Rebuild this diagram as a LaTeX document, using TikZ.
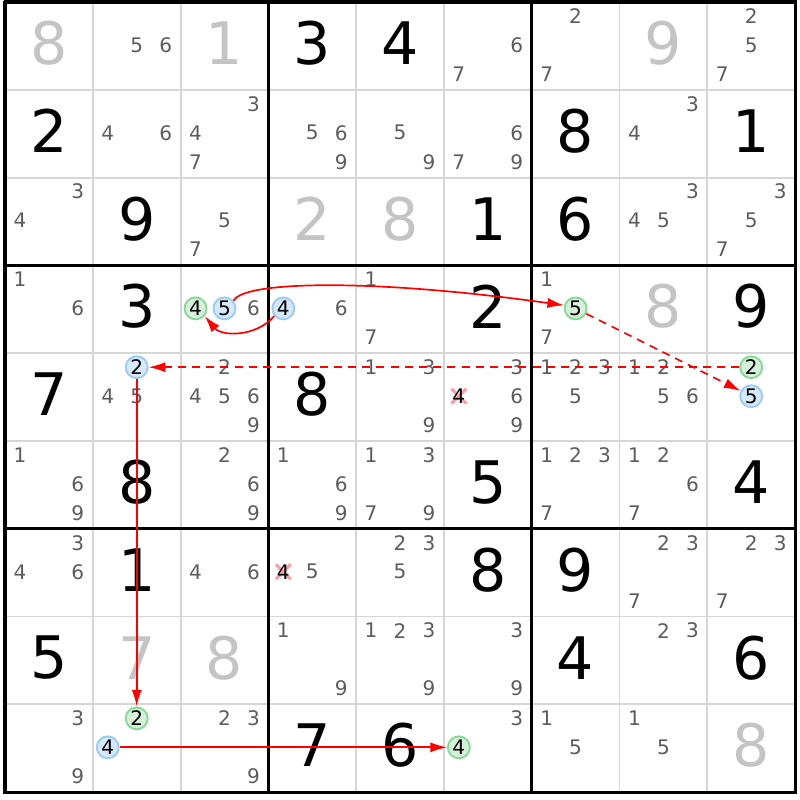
\documentclass[tikz,border=0pt]{standalone}
\usepackage{fontspec}
\setmainfont{DejaVu Sans}
\usetikzlibrary{arrows.meta,calc}
\tikzset{>=latex}

\definecolor{givengray}{HTML}{C4C4C4}
\definecolor{candgray}{HTML}{5C5C5C}
\definecolor{gridgray}{HTML}{D6D6D6}
\definecolor{onfill}{HTML}{D6F0DA}
\definecolor{onedge}{HTML}{84DA94}
\definecolor{offfill}{HTML}{D6E8FB}
\definecolor{offedge}{HTML}{9ACAF6}
\definecolor{linkred}{HTML}{FF0000}
\definecolor{crosspink}{HTML}{FF9CAA}

\tikzset{
    bigdigit/.style={font=\fontsize{19}{19}\selectfont,inner sep=0pt},
    solved/.style={bigdigit,text=black},
    clue/.style={bigdigit,text=givengray},
    cand/.style={font=\fontsize{6.5}{6.5}\selectfont,text=candgray,inner sep=0pt},
    oncand/.style={cand,text=black,circle,draw=onedge,fill=onfill,line width=0.6pt,minimum size=0.25cm},
    offcand/.style={cand,text=black,circle,draw=offedge,fill=offfill,line width=0.6pt,minimum size=0.25cm},
    deadcand/.style={cand,text=black},
    crossmark/.style={draw=crosspink,line width=1pt},
    stronglink/.style={draw=linkred,line width=0.55pt,-{Latex[length=1.9mm,width=1.15mm]}},
    weaklink/.style={stronglink,dash pattern=on 2.6pt off 2pt}
}

% big digits and candidates, cell (row,col)
\newcommand{\setdigit}[3]{\node[solved] (r#1c#2) at (#2-0.5,-#1+0.53) {#3};}
\newcommand{\setclue}[3]{\node[clue] (r#1c#2) at (#2-0.5,-#1+0.53) {#3};}
\newcommand{\cndat}[3]{({#2-0.83+0.33*mod(#3-1,3)},{-#1+0.84-0.33*floor((#3-1)/3)})}
\newcommand{\cnd}[4][cand]{\node[#1] (r#2c#3n#4) at \cndat{#2}{#3}{#4} {#4};}
\newcommand{\cands}[3]{\foreach \d in {#3}{\cnd{#1}{#2}{\d}}}
\newcommand{\deadcnd}[3]{%
    \draw[crossmark] \cndat{#1}{#2}{#3} ++(-0.085,-0.085) -- ++(0.17,0.17);
    \draw[crossmark] \cndat{#1}{#2}{#3} ++(-0.085,0.085) -- ++(0.17,-0.17);
    \cnd[deadcand]{#1}{#2}{#3}}

\begin{document}
\begin{tikzpicture}

    \useasboundingbox (-0.057,0.023) rectangle (9.054,-9.09);

    % grid
    \foreach \i in {1,2,4,5,7,8} {
        \draw[gridgray,line width=0.6pt] (\i,0) -- (\i,-9);
        \draw[gridgray,line width=0.6pt] (0,-\i) -- (9,-\i);
    }
    \foreach \i in {0,3,6,9} {
        \draw[black,line width=1pt] (\i,0.017) -- (\i,-9.017);
        \draw[black,line width=1pt] (-0.017,-\i) -- (9.017,-\i);
    }

    % row 1
    \setclue{1}{1}{8}
    \cands{1}{2}{5,6}
    \setclue{1}{3}{1}
    \setdigit{1}{4}{3}
    \setdigit{1}{5}{4}
    \cands{1}{6}{6,7}
    \cands{1}{7}{2,7}
    \setclue{1}{8}{9}
    \cands{1}{9}{2,5,7}

    % row 2
    \setdigit{2}{1}{2}
    \cands{2}{2}{4,6}
    \cands{2}{3}{3,4,7}
    \cands{2}{4}{5,6,9}
    \cands{2}{5}{5,9}
    \cands{2}{6}{6,7,9}
    \setdigit{2}{7}{8}
    \cands{2}{8}{3,4}
    \setdigit{2}{9}{1}

    % row 3
    \cands{3}{1}{3,4}
    \setdigit{3}{2}{9}
    \cands{3}{3}{5,7}
    \setclue{3}{4}{2}
    \setclue{3}{5}{8}
    \setdigit{3}{6}{1}
    \setdigit{3}{7}{6}
    \cands{3}{8}{3,4,5}
    \cands{3}{9}{3,5,7}

    % row 4
    \cands{4}{1}{1,6}
    \setdigit{4}{2}{3}
    \cnd[oncand]{4}{3}{4}
    \cnd[offcand]{4}{3}{5}
    \cands{4}{3}{6}
    \cnd[offcand]{4}{4}{4}
    \cands{4}{4}{6}
    \cands{4}{5}{1,7}
    \setdigit{4}{6}{2}
    \cands{4}{7}{1,7}
    \cnd[oncand]{4}{7}{5}
    \setclue{4}{8}{8}
    \setdigit{4}{9}{9}

    % row 5
    \setdigit{5}{1}{7}
    \cnd[offcand]{5}{2}{2}
    \cands{5}{2}{4,5}
    \cands{5}{3}{2,4,5,6,9}
    \setdigit{5}{4}{8}
    \cands{5}{5}{1,3,9}
    \cands{5}{6}{3,6,9}
    \deadcnd{5}{6}{4}
    \cands{5}{7}{1,2,3,5}
    \cands{5}{8}{1,2,5,6}
    \cnd[oncand]{5}{9}{2}
    \cnd[offcand]{5}{9}{5}

    % row 6
    \cands{6}{1}{1,6,9}
    \setdigit{6}{2}{8}
    \cands{6}{3}{2,6,9}
    \cands{6}{4}{1,6,9}
    \cands{6}{5}{1,3,7,9}
    \setdigit{6}{6}{5}
    \cands{6}{7}{1,2,3,7}
    \cands{6}{8}{1,2,6,7}
    \setdigit{6}{9}{4}

    % row 7
    \cands{7}{1}{3,4,6}
    \setdigit{7}{2}{1}
    \cands{7}{3}{4,6}
    \deadcnd{7}{4}{4}
    \cands{7}{4}{5}
    \cands{7}{5}{2,3,5}
    \setdigit{7}{6}{8}
    \setdigit{7}{7}{9}
    \cands{7}{8}{2,3,7}
    \cands{7}{9}{2,3,7}

    % row 8
    \setdigit{8}{1}{5}
    \setclue{8}{2}{7}
    \setclue{8}{3}{8}
    \cands{8}{4}{1,9}
    \cands{8}{5}{1,2,3,9}
    \cands{8}{6}{3,9}
    \setdigit{8}{7}{4}
    \cands{8}{8}{2,3}
    \setdigit{8}{9}{6}

    % row 9
    \cands{9}{1}{3,9}
    \cnd[oncand]{9}{2}{2}
    \cnd[offcand]{9}{2}{4}
    \cands{9}{3}{2,3,9}
    \setdigit{9}{4}{7}
    \setdigit{9}{5}{6}
    \cands{9}{6}{3}
    \cnd[oncand]{9}{6}{4}
    \cands{9}{7}{1,5}
    \cands{9}{8}{1,5}
    \setclue{9}{9}{8}

    % chain
    \draw[stronglink] (r4c4n4.-140) to[bend left=50] (r4c3n4.-40);
    \draw[stronglink] (r4c3n5.40) .. controls +(65:0.25) and +(172:2.2) .. (r4c7n5.165);
    \draw[weaklink] (r4c7n5) -- (r5c9n5);
    \draw[weaklink] (r5c9n2) -- (r5c2n2);
    \draw[stronglink] (r5c2n2) -- (r9c2n2);
    \draw[stronglink] (r9c2n4) -- (r9c6n4);

\end{tikzpicture}
\end{document}
